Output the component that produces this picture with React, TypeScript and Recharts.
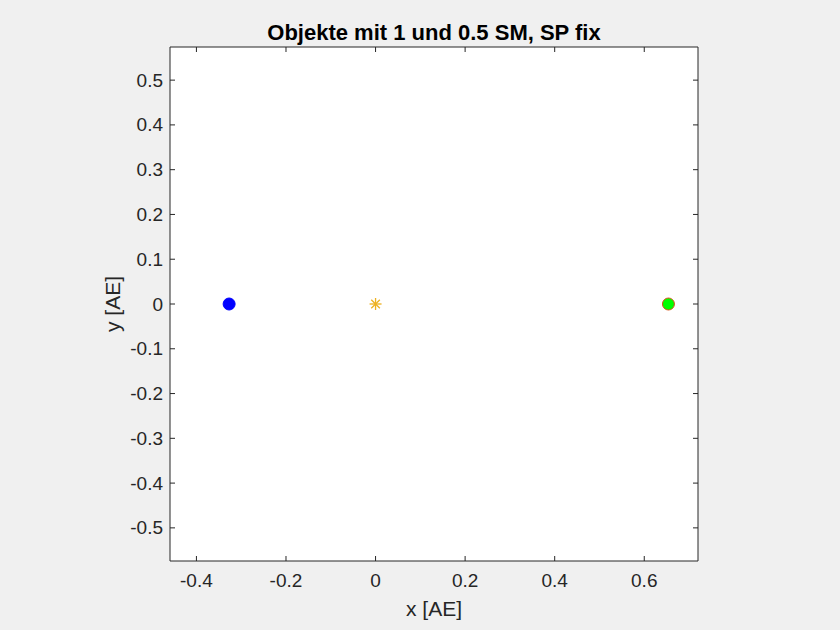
import React from 'react';
import { ScatterChart, Scatter, XAxis, YAxis } from 'recharts';

const xTicks = [-0.4, -0.2, 0, 0.2, 0.4, 0.6];
const yTicks = [-0.5, -0.4, -0.3, -0.2, -0.1, 0, 0.1, 0.2, 0.3, 0.4, 0.5];
const xDomain = [-0.459, 0.72];
const yDomain = [-0.574, 0.574];

const mass1Points = [{ x: -0.327, y: 0 }];
const centerPoints = [{ x: 0, y: 0 }];
const mass2Points = [{ x: 0.654, y: 0 }];

const titleText = 'Objekte mit 1 und 0.5 SM, SP fix';
const xLabel = 'x [AE]';
const yLabel = 'y [AE]';

const AX = '#262626';
const FONT = 'Arial, "Liberation Sans", Helvetica, sans-serif';
const TICK_FS = 19;
const LABEL_FS = 21;
const TITLE_FS = 22;

const fmt = (v: number) => (v === 0 ? '0' : String(Number(v.toFixed(2))));

const BottomTick = (props: any) => {
  const { x, y, payload } = props;
  return (
    <g>
      <line x1={x} x2={x} y1={y} y2={y - 5} stroke={AX} strokeWidth={1} />
      <text x={x} y={y + 26} textAnchor="middle" fill={AX} fontSize={TICK_FS} fontFamily={FONT}>
        {fmt(payload.value)}
      </text>
    </g>
  );
};
const TopTick = (props: any) => {
  const { x, y } = props;
  return <line x1={x} x2={x} y1={y} y2={y + 5} stroke={AX} strokeWidth={1} />;
};
const LeftTick = (props: any) => {
  const { x, y, payload } = props;
  return (
    <g>
      <line x1={x} x2={x + 5} y1={y} y2={y} stroke={AX} strokeWidth={1} />
      <text x={x - 7} y={y + 6.5} textAnchor="end" fill={AX} fontSize={TICK_FS} fontFamily={FONT}>
        {fmt(payload.value)}
      </text>
    </g>
  );
};
const RightTick = (props: any) => {
  const { x, y } = props;
  return <line x1={x} x2={x - 5} y1={y} y2={y} stroke={AX} strokeWidth={1} />;
};

const BlueDot = (props: any) => (
  <circle cx={props.cx} cy={props.cy} r={6} fill="#0000ff" stroke="#0000ff" strokeWidth={1} />
);
const GreenDot = (props: any) => (
  <circle cx={props.cx} cy={props.cy} r={6} fill="#00ff00" stroke="#d95319" strokeWidth={1} />
);
const Star = (props: any) => {
  const { cx, cy } = props;
  const c = '#edb120';
  const r = 6;
  const d = 4.3;
  return (
    <g stroke={c} strokeWidth={1.3}>
      <line x1={cx - r} x2={cx + r} y1={cy} y2={cy} />
      <line x1={cx} x2={cx} y1={cy - r} y2={cy + r} />
      <line x1={cx - d} x2={cx + d} y1={cy - d} y2={cy + d} />
      <line x1={cx - d} x2={cx + d} y1={cy + d} y2={cy - d} />
    </g>
  );
};

export default function App() {
  return (
    <div style={{ position: 'absolute', left: 0, top: 0, width: 840, height: 630, background: '#f0f0f0' }}>
      <div
        style={{
          position: 'absolute', left: 170, width: 528, top: 20, textAlign: 'center',
          fontFamily: FONT, fontWeight: 'bold', fontSize: TITLE_FS, color: '#000', lineHeight: '26px',
        }}
      >
        {titleText}
      </div>
      <div
        style={{
          position: 'absolute', left: 170, width: 528, top: 597, textAlign: 'center',
          fontFamily: FONT, fontSize: LABEL_FS, color: AX, lineHeight: '24px',
        }}
      >
        {xLabel}
      </div>
      <div
        style={{
          position: 'absolute', left: 113 - 60, top: 304 - 12, width: 120, textAlign: 'center',
          fontFamily: FONT, fontSize: LABEL_FS, color: AX, lineHeight: '24px', transform: 'rotate(-90deg)',
        }}
      >
        {yLabel}
      </div>
      <div style={{ position: 'absolute', left: 0, top: 0 }}>
        <ScatterChart width={840} height={630} margin={{ top: 42, left: 110, right: 137, bottom: 39 }}>
          <rect x={170} y={47} width={528} height={514} fill="#ffffff" />
          <XAxis
            xAxisId="b" orientation="bottom" type="number" dataKey="x" domain={xDomain} ticks={xTicks} allowDataOverflow
            height={30} tickSize={0} tickMargin={0} tickLine={false} interval={0}
            axisLine={{ stroke: AX }} tick={<BottomTick />}
          />
          <XAxis
            xAxisId="t" orientation="top" type="number" dataKey="x" domain={xDomain} ticks={xTicks} allowDataOverflow
            height={5} tickSize={0} tickMargin={0} tickLine={false} interval={0}
            axisLine={{ stroke: AX }} tick={<TopTick />}
          />
          <YAxis
            yAxisId="l" orientation="left" type="number" dataKey="y" domain={yDomain} ticks={yTicks} allowDataOverflow
            width={60} tickSize={0} tickMargin={0} tickLine={false} interval={0}
            axisLine={{ stroke: AX }} tick={<LeftTick />}
          />
          <YAxis
            yAxisId="r" orientation="right" type="number" dataKey="y" domain={yDomain} ticks={yTicks} allowDataOverflow
            width={5} tickSize={0} tickMargin={0} tickLine={false} interval={0}
            axisLine={{ stroke: AX }} tick={<RightTick />}
          />
          <Scatter xAxisId="b" yAxisId="l" data={mass1Points} shape={<BlueDot />} isAnimationActive={false} />
          <Scatter xAxisId="b" yAxisId="l" data={centerPoints} shape={<Star />} isAnimationActive={false} />
          <Scatter xAxisId="b" yAxisId="l" data={mass2Points} shape={<GreenDot />} isAnimationActive={false} />
        </ScatterChart>
      </div>
    </div>
  );
}
